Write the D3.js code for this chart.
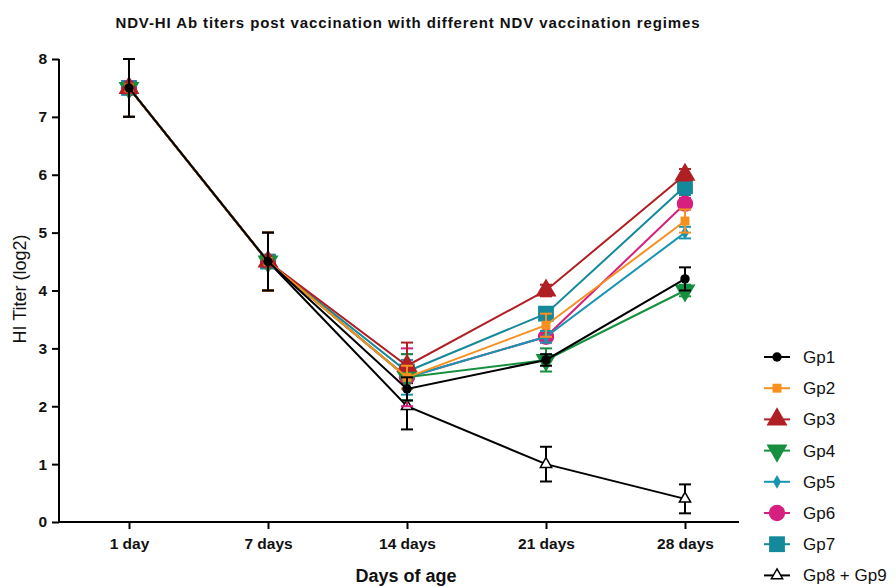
<!DOCTYPE html>
<html>
<head>
<meta charset="utf-8">
<script src="https://cdn.jsdelivr.net/npm/d3@7"></script>
<style>
  body { margin: 0; background: #fff; }
  svg { font-family: "Liberation Sans", Arial, sans-serif; }
</style>
</head>
<body>
<div id="chart"></div>
<script>
const days = ['1 day', '7 days', '14 days', '21 days', '28 days'];
const groups = ['Gp1', 'Gp2', 'Gp3', 'Gp4', 'Gp5', 'Gp6', 'Gp7', 'Gp8 + Gp9'];
const colors = ['#000000', '#f7901e', '#b01f24', '#16903f', '#1a95b0', '#d6207f', '#14899b', '#000000'];

// mean titers (log2) per group, in order of days
const gp1 = [7.5, 4.5, 2.3, 2.8, 4.2];
const gp2 = [7.5, 4.5, 2.5, 3.4, 5.2];
const gp3 = [7.5, 4.5, 2.7, 4.0, 6.0];
const gp4 = [7.5, 4.5, 2.5, 2.8, 4.0];
const gp5 = [7.5, 4.5, 2.5, 3.2, 5.0];
const gp6 = [7.5, 4.5, 2.5, 3.2, 5.5];
const gp7 = [7.5, 4.5, 2.6, 3.6, 5.8];
const gp8 = [7.5, 4.5, 2.0, 1.0, 0.4];
const means = [gp1, gp2, gp3, gp4, gp5, gp6, gp7, gp8];

// error bar half-widths (SD)
const err1 = [0.5, 0.5, 0.2, 0.1, 0.2];
const err2 = [0.5, 0.5, 0.2, 0.2, 0.2];
const err3 = [0.5, 0.5, 0.4, 0.1, 0.1];
const err4 = [0.5, 0.5, 0.4, 0.2, 0.1];
const err5 = [0.5, 0.5, 0.3, 0.1, 0.1];
const err6 = [0.5, 0.5, 0.5, 0.1, 0.1];
const err7 = [0.5, 0.5, 0.3, 0.1, 0.15];
const err8 = [0.5, 0.5, 0.4, 0.3, 0.25];
const errs = [err1, err2, err3, err4, err5, err6, err7, err8];

const yTicks = [0, 1, 2, 3, 4, 5, 6, 7, 8];

const symbolDefs = [
  { type: d3.symbolCircle, size: 70, rot: 0, open: false },
  { type: d3.symbolSquare, size: 80, rot: 0, open: false },
  { type: d3.symbolTriangle, size: 190, rot: 0, open: false },
  { type: d3.symbolTriangle, size: 190, rot: 180, open: false },
  { type: d3.symbolDiamond, size: 55, rot: 0, open: false },
  { type: d3.symbolCircle, size: 210, rot: 0, open: false },
  { type: d3.symbolSquare, size: 250, rot: 0, open: false },
  { type: d3.symbolTriangle, size: 55, rot: 0, open: true }
];

const W = 896, H = 587;
const svg = d3.select('#chart').append('svg').attr('width', W).attr('height', H);

const x = d3.scalePoint().domain(days).range([129, 685]);
const y = d3.scaleLinear().domain([0, 8]).range([522, 59]);

// title
svg.append('text').attr('x', 408).attr('y', 28).attr('text-anchor', 'middle')
  .attr('font-size', 15).attr('font-weight', 'bold').attr('fill', '#111')
  .attr('letter-spacing', 0.9)
  .text('NDV-HI Ab titers post vaccination with different NDV vaccination regimes');

// axes
const yAxis = svg.append('g').attr('transform', 'translate(59,0)')
  .call(d3.axisLeft(y).tickValues(yTicks).tickSize(7).tickPadding(5));
const xAxis = svg.append('g').attr('transform', 'translate(0,522)')
  .call(d3.axisBottom(x).tickSize(7).tickPadding(9));
xAxis.select('.domain').attr('d', 'M59,0H739');
[yAxis, xAxis].forEach(g => {
  g.selectAll('.domain, line').attr('stroke', '#000').attr('stroke-width', 2);
  g.selectAll('text').attr('font-size', 15.5).attr('font-weight', 'bold').attr('fill', '#111');
});
yAxis.select('.domain').attr('d', 'M0,522V59');

svg.append('text').attr('transform', 'translate(26,289) rotate(-90)')
  .attr('text-anchor', 'middle').attr('font-size', 18).attr('fill', '#111')
  .text('HI Titer (log2)');
svg.append('text').attr('x', 406).attr('y', 582).attr('text-anchor', 'middle')
  .attr('font-size', 18).attr('font-weight', 'bold').attr('fill', '#111')
  .text('Days of age');

const line = d3.line().x((d, i) => x(days[i])).y(d => y(d));
const sym = (k) => d3.symbol().type(symbolDefs[k].type).size(symbolDefs[k].size)();

// draw last series first so Gp1 ends on top
const order = d3.range(groups.length).reverse();
order.forEach(k => {
  const g = svg.append('g');
  const c = colors[k];
  g.append('path').datum(means[k]).attr('d', line)
    .attr('fill', 'none').attr('stroke', c).attr('stroke-width', 2);
  means[k].forEach((m, i) => {
    const cx = x(days[i]);
    const e = errs[k][i];
    const eg = g.append('g').attr('stroke', c).attr('stroke-width', 2);
    eg.append('line').attr('x1', cx).attr('x2', cx).attr('y1', y(m - e)).attr('y2', y(m + e));
    [m - e, m + e].forEach(v => {
      eg.append('line').attr('x1', cx - 6).attr('x2', cx + 6).attr('y1', y(v)).attr('y2', y(v));
    });
    const s = symbolDefs[k];
    g.append('path').attr('d', sym(k))
      .attr('transform', `translate(${cx},${y(m)}) rotate(${s.rot})`)
      .attr('fill', s.open ? '#fff' : c)
      .attr('stroke', c).attr('stroke-width', s.open ? 1.5 : 0);
  });
});

// legend
const leg = svg.append('g');
groups.forEach((name, k) => {
  const ly = 357 + k * 31.2;
  const c = colors[k];
  const s = symbolDefs[k];
  leg.append('line').attr('x1', 764).attr('x2', 790).attr('y1', ly).attr('y2', ly)
    .attr('stroke', c).attr('stroke-width', 2);
  leg.append('path').attr('d', sym(k))
    .attr('transform', `translate(777,${ly}) rotate(${s.rot})`)
    .attr('fill', s.open ? '#fff' : c)
    .attr('stroke', c).attr('stroke-width', s.open ? 1.5 : 0);
  leg.append('text').attr('x', 803).attr('y', ly + 6)
    .attr('font-size', 17).attr('fill', '#111').text(name);
});
</script>
</body>
</html>
